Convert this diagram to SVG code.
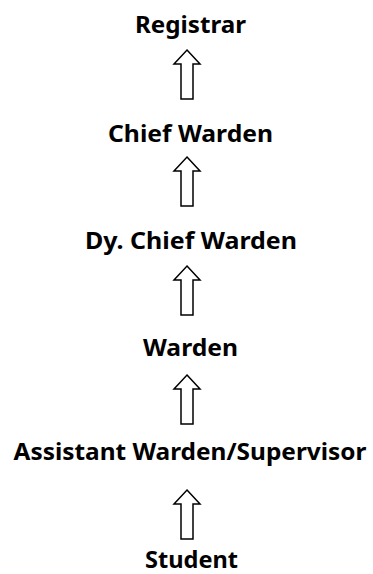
<svg xmlns="http://www.w3.org/2000/svg" width="373" height="574" viewBox="0 0 373 574">
  <style>
    .lbl { font-family: "Noto Sans", "Open Sans", sans-serif; font-weight: bold; font-size: 24px; fill: #000; text-anchor: middle; }
    .up { fill: #fff; stroke: #000; stroke-width: 1.5; stroke-linejoin: miter; }
  </style>
  <defs>
    <!-- hollow block arrow pointing up, tip at (0,0), 49px long -->
    <polygon id="upArrow" class="up" points="0,0 13,14 6,14 6,49 -6,49 -6,14 -13,14"/>
  </defs>
  <rect width="373" height="574" fill="#fff"/>

  <g id="connectors">
    <use href="#upArrow" x="187" y="50"/>
    <use href="#upArrow" x="187" y="157"/>
    <use href="#upArrow" x="187" y="266"/>
    <use href="#upArrow" x="187" y="375"/>
    <use href="#upArrow" x="187" y="490"/>
  </g>

  <g id="registrar"><text class="lbl" x="190.5" y="33" textLength="111" lengthAdjust="spacingAndGlyphs">Registrar</text></g>
  <g id="chief-warden"><text class="lbl" x="190.5" y="142" textLength="165" lengthAdjust="spacingAndGlyphs">Chief Warden</text></g>
  <g id="dy-chief-warden"><text class="lbl" x="191" y="249" textLength="212" lengthAdjust="spacingAndGlyphs">Dy. Chief Warden</text></g>
  <g id="warden"><text class="lbl" x="190.5" y="356" textLength="95" lengthAdjust="spacingAndGlyphs">Warden</text></g>
  <g id="assistant-warden"><text class="lbl" x="190" y="460" textLength="353" lengthAdjust="spacingAndGlyphs">Assistant Warden/Supervisor</text></g>
  <g id="student"><text class="lbl" x="191.5" y="568" textLength="93" lengthAdjust="spacingAndGlyphs">Student</text></g>
</svg>
